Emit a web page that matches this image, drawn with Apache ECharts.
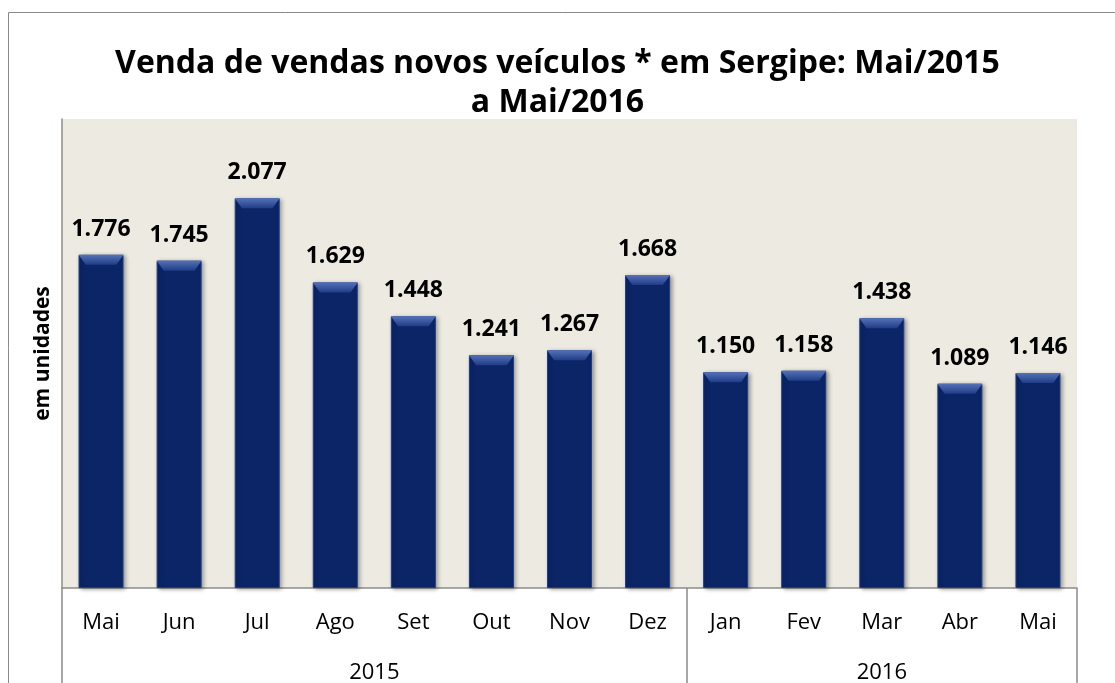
<!DOCTYPE html>
<html>
	<head>
		<meta charset="utf-8"/>
		<title>Venda de veículos em Sergipe</title>
		<style type="text/css">
			*{margin: 0;padding: 0;}
			html,body{background-color: #fff;}
			.chart{width: 1115px;height: 683px;}
		</style>
		<script type="text/javascript" src="https://cdn.jsdelivr.net/npm/echarts@6/dist/echarts.min.js"></script>
	</head>
	<body>
		<div class="chart js-chart"></div>
		<script type="text/javascript">
			// dados
			var meses=["Mai","Jun","Jul","Ago","Set","Out","Nov","Dez","Jan","Fev","Mar","Abr","Mai"];
			var vendas=[1776,1745,2077,1629,1448,1241,1267,1668,1150,1158,1438,1089,1146];
			var anos=["2015","2016"];
			var mesesPorAno=[8,5];

			// posicoes dos rotulos de ano e separadores
			var divisoes=[0],centros=[],acc=0;
			for(var i=0;i<mesesPorAno.length;i++){
				centros.push(acc+mesesPorAno[i]/2);
				acc+=mesesPorAno[i];
				divisoes.push(acc);
			}

			function fmt(v){
				return String(v).replace(/\B(?=(\d{3})+(?!\d))/g,".");
			}

			var fonte="Open Sans";
			var chart=echarts.init(document.querySelector(".js-chart"));
			var option={
				animation:false,
				textStyle:{fontFamily:fonte},
				title:{
					text:"Venda de vendas novos veículos * em Sergipe: Mai/2015\na Mai/2016",
					left:"center",
					top:39,
					textStyle:{fontFamily:fonte,fontSize:32,fontWeight:"bold",color:"#000",lineHeight:39}
				},
				graphic:[{
					type:"rect",
					shape:{x:8.5,y:12.5,width:1130,height:700},
					style:{fill:"none",stroke:"#8a8a8a",lineWidth:1},
					silent:true
				}],
				grid:{
					left:62,right:38,top:119,bottom:95,
					outerBoundsMode:"none",
					containLabel:false,
					show:true,backgroundColor:"#EDEBE1",borderWidth:0
				},
				xAxis:[{
					type:"category",
					data:meses,
					position:"bottom",
					axisLine:{lineStyle:{color:"#8c8c8c",width:1.5}},
					axisTick:{show:false},
					axisLabel:{fontFamily:fonte,fontSize:22,color:"#000",margin:24}
				},{
					type:"value",
					min:0,max:meses.length,
					position:"bottom",
					axisLine:{show:false},
					splitLine:{show:false},
					axisTick:{show:true,customValues:divisoes,length:100,lineStyle:{color:"#8c8c8c",width:1.5}},
					axisLabel:{
						customValues:centros,
						fontFamily:fonte,fontSize:22,color:"#000",margin:74,
						formatter:function(v){
							var k=centros.indexOf(v);
							return k>=0?anos[k]:"";
						}
					}
				}],
				yAxis:{
					type:"value",
					min:0,max:2500,
					name:"em unidades",
					nameLocation:"middle",
					nameRotate:90,
					nameGap:8,
					nameTextStyle:{fontFamily:fonte,fontSize:21,fontWeight:"bold",color:"#000"},
					axisLine:{show:true,lineStyle:{color:"#8c8c8c",width:1.5}},
					axisTick:{show:false},
					axisLabel:{show:false},
					splitLine:{show:false}
				},
				series:[{
					type:"bar",
					data:vendas,
					barWidth:45,
					barGap:"-100%",
					itemStyle:{
						color:"#0B2567",
						borderColor:"#1E3C86",
						borderWidth:1,
						shadowColor:"rgba(0,0,0,0.35)",
						shadowBlur:4,
						shadowOffsetX:2,
						shadowOffsetY:1
					},
					label:{
						show:true,
						position:"top",
						distance:14,
						fontFamily:fonte,fontSize:23,fontWeight:"bold",color:"#000",
						formatter:function(p){return fmt(p.value);}
					}
				},{
					type:"pictorialBar",
					data:vendas,
					symbol:"path://M0,0 L50,0 L42,10 L8,10 Z",
					symbolPosition:"end",
					symbolSize:[45,10],
					symbolOffset:[0,0],
					barGap:"-100%",
					silent:true,
					itemStyle:{
						color:{type:"linear",x:0,y:0,x2:0,y2:1,colorStops:[
							{offset:0,color:"#5572B8"},
							{offset:1,color:"#1F3C86"}
						]}
					},
					z:3
				}]
			};
			chart.setOption(option);
		</script>
	</body>
</html>
